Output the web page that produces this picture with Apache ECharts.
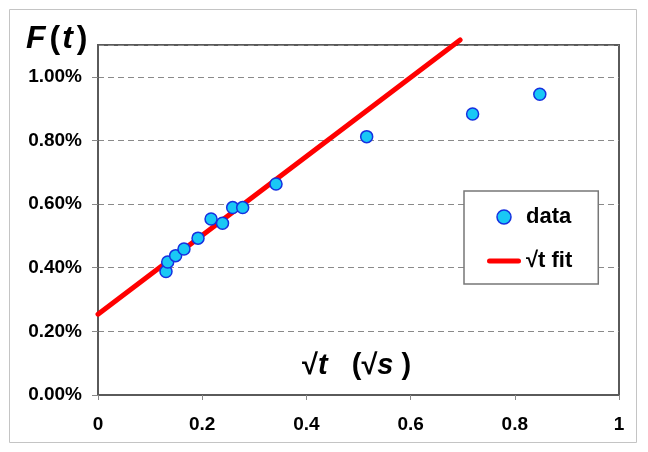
<!DOCTYPE html>
<html>
<head>
<meta charset="utf-8">
<script src="https://cdn.jsdelivr.net/npm/echarts@6/dist/echarts.min.js"></script>
<style>html,body{margin:0;padding:0;background:#fff}#c{width:648px;height:452px}</style>
</head>
<body>
<div id="c"></div>
<script>
const sqrtT = [0.1305, 0.1338, 0.149, 0.165, 0.192, 0.217, 0.239, 0.2585, 0.2777, 0.3417, 0.5157, 0.719, 0.848];
const F = [0.388, 0.418, 0.438, 0.459, 0.493, 0.553, 0.540, 0.589, 0.589, 0.663, 0.812, 0.883, 0.945];
const fitX = [0, 0.695];
const fitY = [0.254, 1.116];
const xTicks = [0, 0.2, 0.4, 0.6, 0.8, 1];
const yTicks = [0, 0.2, 0.4, 0.6, 0.8, 1.0];

const font = '"Liberation Sans", Arial, sans-serif';
const chart = echarts.init(document.getElementById('c'), null, {renderer: 'canvas'});
chart.setOption({
  backgroundColor: '#fff',
  animation: false,
  grid: {left: 98, top: 45, right: 29, bottom: 57, show: true, borderColor: '#5a5a5a', borderWidth: 2, backgroundColor: '#fff'},
  xAxis: {
    type: 'value', min: xTicks[0], max: xTicks[xTicks.length - 1], interval: 0.2,
    axisLine: {show: true, lineStyle: {color: '#5a5a5a', width: 2}},
    axisTick: {show: true, length: 5, lineStyle: {color: '#888'}},
    splitLine: {show: false},
    axisLabel: {margin: 20, fontFamily: font, fontWeight: 'bold', fontSize: 19, color: '#000',
      formatter: v => String(+(+v).toFixed(1))}
  },
  yAxis: {
    type: 'value', min: yTicks[0], max: 1.1, interval: 0.2,
    axisLine: {show: true, lineStyle: {color: '#5a5a5a', width: 2}},
    axisTick: {show: true, length: 6, lineStyle: {color: '#888'}},
    splitLine: {show: true, lineStyle: {color: '#8a8a8a', type: [6, 4], width: 1}},
    axisLabel: {margin: 16, showMaxLabel: false, fontFamily: font, fontWeight: 'bold', fontSize: 19, color: '#000',
      formatter: v => (+v).toFixed(2) + '%'}
  },
  legend: {
    orient: 'vertical', left: 464, top: 191,
    padding: [15, 26, 12, 23], itemGap: 22, itemWidth: 34, itemHeight: 14,
    backgroundColor: '#fff', borderColor: '#777', borderWidth: 1.5,
    textStyle: {fontFamily: font, fontWeight: 'bold', fontSize: 22, color: '#000'},
    data: [
      {name: 'data', icon: 'circle', itemStyle: {color: '#19c8f5', borderColor: '#1530e0', borderWidth: 1.5}},
      {name: '√t fit', icon: 'path://M2.5,0 L31.5,0 A2.5,2.5 0 0 1 31.5,5 L2.5,5 A2.5,2.5 0 0 1 2.5,0 Z',
        itemStyle: {color: '#ff0000', borderWidth: 0}}
    ]
  },
  series: [
    {
      name: '√t fit', type: 'line', clip: false, symbol: 'none', z: 2,
      lineStyle: {color: '#ff0000', width: 5, cap: 'round'},
      itemStyle: {color: '#ff0000'},
      data: fitX.map((x, i) => [x, fitY[i]])
    },
    {
      name: 'data', type: 'scatter', symbol: 'circle', symbolSize: 12, z: 3,
      itemStyle: {color: '#19c8f5', borderColor: '#1530e0', borderWidth: 1.5, opacity: 1},
      data: sqrtT.map((x, i) => [x, F[i]])
    }
  ],
  graphic: [
    {type: 'rect', shape: {x: 9.5, y: 9.5, width: 627, height: 433}, style: {fill: null, stroke: '#c4c4c4', lineWidth: 1}, z: -10, silent: true},
    {type: 'text', left: 26, top: 23, z: 10, style: {
      text: '{i|F}{n|(}{i|t}{n|)}',
      rich: {
        i: {fontFamily: font, fontWeight: 'bold', fontStyle: 'italic', fontSize: 32, fill: '#000', padding: [0, 2, 0, 0]},
        n: {fontFamily: font, fontWeight: 'bold', fontSize: 32, fill: '#000', padding: [0, 2, 0, 2]}
      }}},
    {type: 'text', left: 302, top: 351, z: 10, style: {
      text: '{n|√}{i|t}{n|   (√}{i|s}{n| )}',
      rich: {
        i: {fontFamily: font, fontWeight: 'bold', fontStyle: 'italic', fontSize: 29, fill: '#000'},
        n: {fontFamily: font, fontWeight: 'bold', fontSize: 29, fill: '#000'}
      }}}
  ]
});
</script>
</body>
</html>
